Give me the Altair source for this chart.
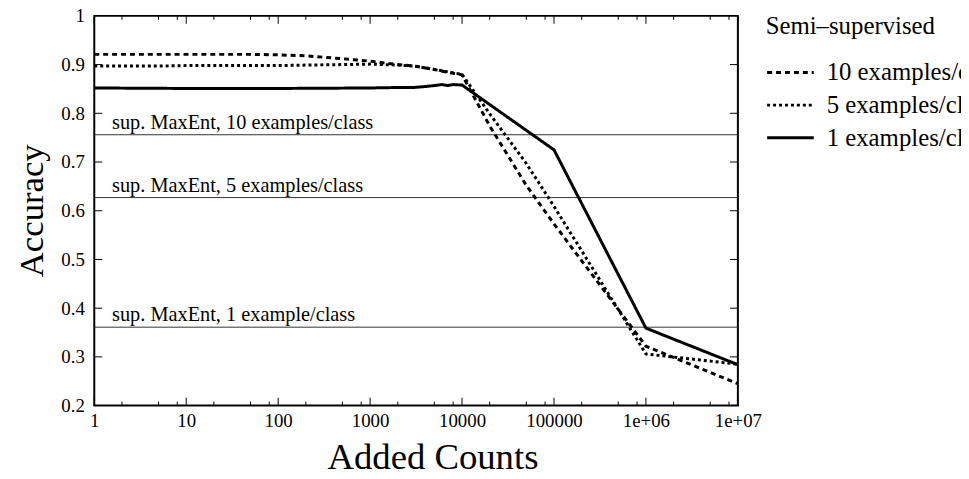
import altair as alt
import pandas as pd

# ---- data ----
x10 = [1, 2, 5, 10, 20, 50, 100, 200, 500, 1000, 2000, 3000, 5000, 7000, 10000, 20000, 50000, 100000, 1000000, 10000000]
y10 = [0.921, 0.921, 0.921, 0.921, 0.921, 0.921, 0.920, 0.918, 0.912, 0.907, 0.900, 0.897, 0.890, 0.884, 0.879, 0.774, 0.652, 0.573, 0.322, 0.245]

x5 = [1, 2, 5, 10, 20, 50, 100, 200, 500, 1000, 2000, 3000, 5000, 7000, 10000, 20000, 50000, 100000, 1000000, 10000000]
y5 = [0.897, 0.897, 0.897, 0.898, 0.898, 0.898, 0.898, 0.899, 0.900, 0.901, 0.899, 0.897, 0.890, 0.885, 0.880, 0.799, 0.697, 0.609, 0.306, 0.285]

x1 = [1, 10, 100, 1000, 2000, 3000, 4000, 5000, 6000, 7000, 8000, 10000, 100000, 1000000, 10000000]
y1 = [0.852, 0.851, 0.851, 0.852, 0.853, 0.853, 0.855, 0.857, 0.859, 0.857, 0.859, 0.858, 0.725, 0.359, 0.284]

series_names = ["10 examples/class", "5 examples/class", "1 examples/class"]

ref_values = [0.756, 0.627, 0.361]
ref_labels = ["sup. MaxEnt, 10 examples/class", "sup. MaxEnt, 5 examples/class", "sup. MaxEnt, 1 example/class"]
ref_label_x = [1.56, 1.56, 1.56]

x_tick_values = [1, 10, 100, 1000, 10000, 100000, 1000000, 10000000]
x_tick_labels = ["1", "10", "100", "1000", "10000", "100000", "1e+06", "1e+07"]
x_minor_ticks = [m * 10 ** k for k in range(7) for m in (2, 5, 8)]

y_tick_values = [0.2, 0.3, 0.4, 0.5, 0.6, 0.7, 0.8, 0.9, 1.0]
y_tick_labels = ["0.2", "0.3", "0.4", "0.5", "0.6", "0.7", "0.8", "0.9", "1"]

# ---- tables ----
rows = []
for name, xs, ys in zip(series_names, [x10, x5, x1], [y10, y5, y1]):
    for a, b in zip(xs, ys):
        rows.append({"count": a, "acc": b, "series": name})
lines_df = pd.DataFrame(rows)
ref_df = pd.DataFrame({"acc": ref_values, "label": ref_labels, "count": ref_label_x})
xmaj_df = pd.DataFrame({"count": x_tick_values})
xmin_df = pd.DataFrame({"count": x_minor_ticks})
ytk_df = pd.DataFrame({"acc": y_tick_values[1:-1]})


def label_expr(values, labels):
    expr = "''"
    for v, l in reversed(list(zip(values, labels))):
        expr = f"datum.value == {v} ? '{l}' : ({expr})"
    return expr


W, H = 649, 393
FONT = "Liberation Serif, Times New Roman, serif"

xscale = alt.Scale(type="log", domain=[1, 10000000], nice=False)
yscale = alt.Scale(domain=[0.2, 1.0], nice=False, zero=False)

xaxis = alt.Axis(
    values=x_tick_values, labelExpr=label_expr(x_tick_values, x_tick_labels),
    ticks=False, tickSize=0, domain=False, grid=False, labelPadding=6,
    labelFontSize=19, labelFont=FONT, labelColor="black", labelFlush=False,
    labelOverlap=False,
    title="Added Counts", titleFont=FONT, titleFontSize=37, titleFontWeight="normal",
    titleColor="black", titleX=341, titleY=63, titleAlign="center", titleBaseline="alphabetic",
)
yaxis = alt.Axis(
    values=y_tick_values, labelExpr=label_expr(y_tick_values, y_tick_labels),
    ticks=False, tickSize=0, domain=False, grid=False, labelPadding=10,
    labelFontSize=19, labelFont=FONT, labelColor="black", labelFlush=False,
    labelOverlap=False,
    title="Accuracy", titleFont=FONT, titleFontSize=35, titleFontWeight="normal",
    titleColor="black", titleAngle=270, titleX=-52, titleY=196, titleAlign="center",
    titleBaseline="alphabetic",
)

lines = alt.Chart(lines_df).mark_line(color="black", strokeWidth=3, clip=True).encode(
    x=alt.X("count:Q", scale=xscale, axis=xaxis),
    y=alt.Y("acc:Q", scale=yscale, axis=yaxis),
    strokeDash=alt.StrokeDash(
        "series:N",
        scale=alt.Scale(domain=series_names, range=[[5, 4], [3, 3], [1, 0]]),
        legend=alt.Legend(
            title="Semi\u2013supervised", orient="none", legendX=677, legendY=-2,
            titleFont=FONT, titleFontSize=25, titleFontWeight="normal", titleColor="black",
            titlePadding=14.5, labelFont=FONT, labelFontSize=25, labelColor="black",
            symbolType="M-1.305,0H1.305", symbolStrokeWidth=3, symbolSize=1296,
            symbolOffset=5.5, symbolStrokeColor="black", symbolFillColor="transparent",
            labelOffset=17, rowPadding=0, labelLimit=400,
        ),
    ),
    detail="series:N",
)

refs = alt.Chart(ref_df).mark_rule(color="#333333", strokeWidth=1).encode(
    y=alt.Y("acc:Q", scale=yscale)
)
ref_text = alt.Chart(ref_df).mark_text(
    align="left", baseline="alphabetic", dy=-6, font=FONT, fontSize=20.5, color="black"
).encode(x=alt.X("count:Q", scale=xscale), y=alt.Y("acc:Q", scale=yscale), text="label:N")

tick_style = dict(color="black", strokeWidth=1)
bot_major = alt.Chart(xmaj_df).mark_rule(**tick_style).encode(
    x=alt.X("count:Q", scale=xscale), y=alt.value(H), y2=alt.value(H - 8))
top_major = alt.Chart(xmaj_df).mark_rule(**tick_style).encode(
    x=alt.X("count:Q", scale=xscale), y=alt.value(0), y2=alt.value(8))
bot_minor = alt.Chart(xmin_df).mark_rule(**tick_style).encode(
    x=alt.X("count:Q", scale=xscale), y=alt.value(H), y2=alt.value(H - 4))
top_minor = alt.Chart(xmin_df).mark_rule(**tick_style).encode(
    x=alt.X("count:Q", scale=xscale), y=alt.value(0), y2=alt.value(4))
left_t = alt.Chart(ytk_df).mark_rule(**tick_style).encode(
    y=alt.Y("acc:Q", scale=yscale), x=alt.value(0), x2=alt.value(8))
right_t = alt.Chart(ytk_df).mark_rule(**tick_style).encode(
    y=alt.Y("acc:Q", scale=yscale), x=alt.value(W), x2=alt.value(W - 8))

chart = alt.layer(
    refs, ref_text, bot_major, top_major, bot_minor, top_minor, left_t, right_t, lines
).properties(
    width=W, height=H,
    autosize=alt.AutoSizeParams(type="none"),
    padding={"left": 87, "top": 6, "right": 225, "bottom": 64},
    view=alt.ViewBackground(stroke="black", strokeWidth=2),
).configure(
    background="white", font=FONT
).configure_view(
    stroke="black", strokeWidth=2
)

chart.save("out.html", embed_options={"renderer": "svg", "actions": False})
